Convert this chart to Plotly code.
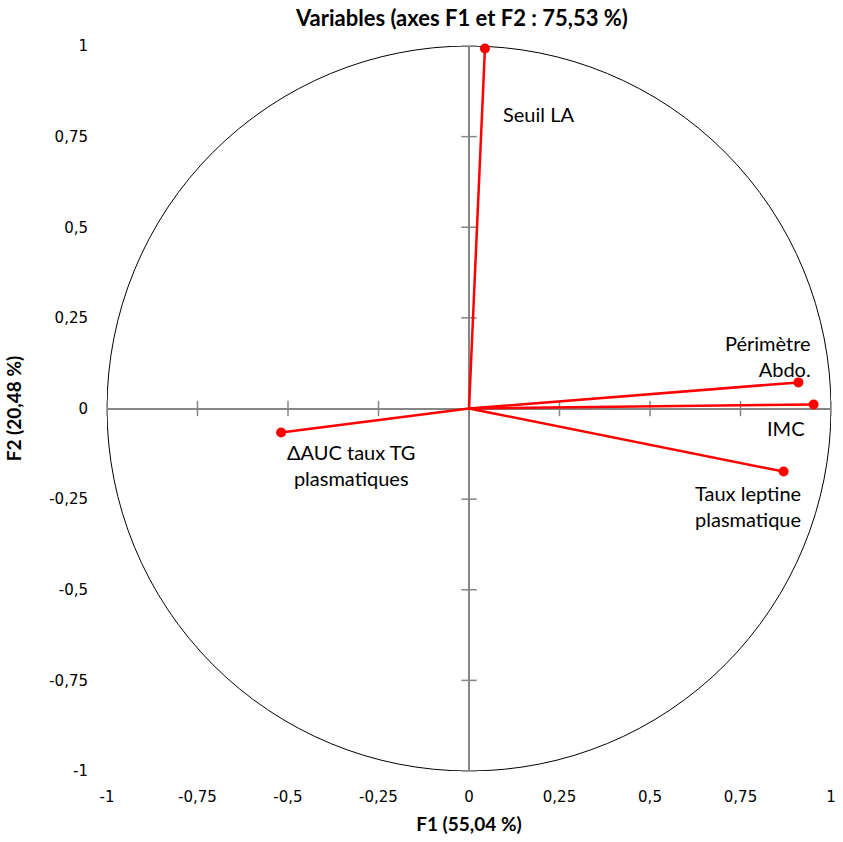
import plotly.graph_objects as go

# Correlation circle: variable coordinates on F1 / F2
variables = ["Seuil LA", "Périmètre<br>Abdo.", "IMC", "Taux leptine<br>plasmatique", "ΔAUC taux TG<br>plasmatiques"]
f1 = [0.044, 0.910, 0.952, 0.869, -0.519]
f2 = [0.993, 0.072, 0.011, -0.174, -0.066]

# label offsets (pixels) relative to each point
label_dx = [54, -30, -28, -36, 70]
label_dy = [-65, 26, -23, -34, -33]

tick_values = [-1, -0.75, -0.5, -0.25, 0, 0.25, 0.5, 0.75, 1]
tick_labels = ["-1", "-0,75", "-0,5", "-0,25", "0", "0,25", "0,5", "0,75", "1"]

radius = 1.0

AXIS_GREY = "#868686"
RED = "#ff0000"
LABEL_FONT = dict(family="Lato, 'Open Sans', sans-serif", size=20, color="#000000")

fig = go.Figure()

# tick marks across the zero axes
tick_marks = [t for t in tick_values if t != 0]
fig.add_trace(go.Scatter(
    x=tick_marks, y=[0] * len(tick_marks), mode="markers",
    marker=dict(symbol="line-ns", size=11, line=dict(color=AXIS_GREY, width=1.5)),
    hoverinfo="skip", showlegend=False, cliponaxis=False,
))
fig.add_trace(go.Scatter(
    x=[0] * len(tick_marks), y=tick_marks, mode="markers",
    marker=dict(symbol="line-ew", size=11, line=dict(color=AXIS_GREY, width=1.5)),
    hoverinfo="skip", showlegend=False, cliponaxis=False,
))

# vectors from the origin
for name, x, y in zip(variables, f1, f2):
    fig.add_trace(go.Scatter(
        x=[0, x], y=[0, y], mode="lines",
        line=dict(color=RED, width=2.5),
        hoverinfo="skip", showlegend=False, cliponaxis=False,
    ))

fig.add_trace(go.Scatter(
    x=f1, y=f2, mode="markers",
    marker=dict(color=RED, size=10),
    text=variables, hoverinfo="text", showlegend=False, cliponaxis=False,
))

# unit circle
fig.add_shape(type="circle", xref="x", yref="y",
              x0=-radius, y0=-radius, x1=radius, y1=radius,
              line=dict(color="#000000", width=1), layer="below")

for name, x, y, dx, dy in zip(variables, f1, f2, label_dx, label_dy):
    fig.add_annotation(
        x=x, y=y, xref="x", yref="y", text=name, showarrow=False,
        xanchor="center", yanchor="middle", xshift=dx, yshift=dy,
        align="right" if name.startswith("Périmètre") else "center",
        font=LABEL_FONT,
    )

title_font = dict(family="Lato, 'Open Sans', sans-serif", size=22, color="#000000", weight="bold")
axis_title_font = dict(family="Lato, 'Open Sans', sans-serif", size=19, color="#000000", weight="bold")
tick_font = dict(family="'DejaVu Sans', Verdana, sans-serif", size=15, color="#000000")

fig.update_layout(
    width=843, height=842,
    margin=dict(l=107, r=7, t=46, b=71),
    paper_bgcolor="white", plot_bgcolor="white",
    title=dict(text="<b>Variables (axes F1 et F2 : 75,53 %)</b>", x=0.548, xanchor="center",
               y=0.978, yanchor="middle", font=title_font),
    xaxis=dict(
        range=[-1, 1], tickvals=tick_values, ticktext=tick_labels,
        showgrid=False, showline=False, ticks="", ticklabelstandoff=15,
        zeroline=True, zerolinecolor=AXIS_GREY, zerolinewidth=2,
        tickfont=tick_font,
        title=dict(text="<b>F1 (55,04 %)</b>", font=axis_title_font, standoff=12),
    ),
    yaxis=dict(
        range=[-1, 1], tickvals=tick_values, ticktext=tick_labels,
        showgrid=False, showline=False, ticks="", ticklabelstandoff=18,
        zeroline=True, zerolinecolor=AXIS_GREY, zerolinewidth=2,
        tickfont=tick_font,
        title=dict(text="<b>F2 (20,48 %)</b>", font=axis_title_font, standoff=22),
    ),
)

fig.write_html("out.html")
